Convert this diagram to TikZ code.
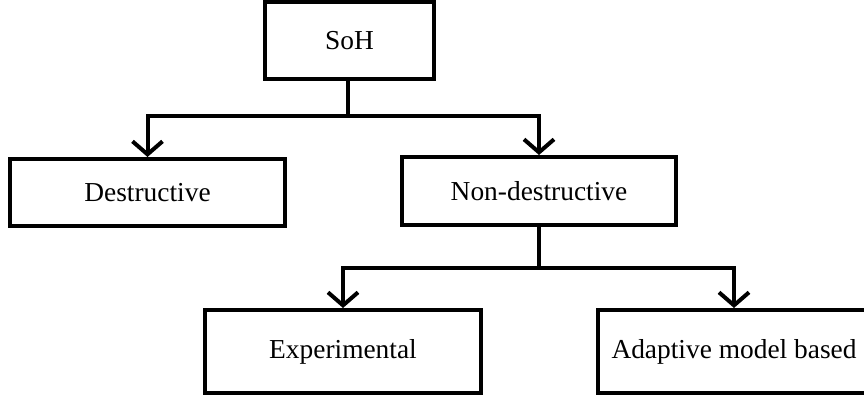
\documentclass[tikz,border=0pt]{standalone}
\usepackage{fontspec}
\setmainfont{Liberation Serif}
\usetikzlibrary{arrows.meta}
\begin{document}
\begin{tikzpicture}[x=1pt,y=-1pt,
  box/.style={draw, line width=4pt, minimum width=#1, inner sep=0pt,
    font=\fontsize{27.4}{30}\selectfont},
  link/.style={line width=4pt, line join=miter},
  arr/.style={link, -{Straight Barb[length=13pt,width=30pt,line width=4pt]}}]
\useasboundingbox (0,0) rectangle (864,398);
\clip (0,0) rectangle (864,398);
\node[box=169pt, minimum height=77pt] (soh) at (349.5,40.5) {SoH};
\node[box=275pt, minimum height=67pt] (des) at (147.5,192.5) {Destructive};
\node[box=274pt, minimum height=68pt] (non) at (539,191) {Non-destructive};
\node[box=276pt, minimum height=83pt] (exp) at (343,351.5) {Experimental};
\node[box=272pt, minimum height=83pt] (ada) at (734,351.5) {Adaptive model based};
\coordinate (j1) at (348,116);
\coordinate (j2) at (539,268);
\draw[link] (348,79) -- (j1);
\draw[arr] (j1) -| (des.north);
\draw[arr] (j1) -| (non.north);
\draw[link] (non.south) -- (j2);
\draw[arr] (j2) -| (exp.north);
\draw[arr] (j2) -| (ada.north);
\end{tikzpicture}
\end{document}
